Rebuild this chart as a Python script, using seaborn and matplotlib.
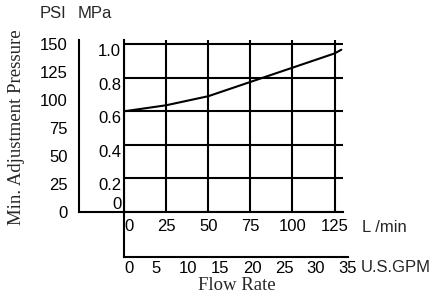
import matplotlib
matplotlib.use("Agg")
import matplotlib.pyplot as plt
import seaborn as sns
import pandas as pd

# values
flow_lpm = [0, 25, 50, 75, 100, 125, 129]
pressure_mpa = [0.60, 0.636, 0.69, 0.775, 0.86, 0.945, 0.967]

mpa_ticks = [0, 0.2, 0.4, 0.6, 0.8, 1.0]
mpa_labels = ["0", "0.2", "0.4", "0.6", "0.8", "1.0"]
psi_ticks = [0, 25, 50, 75, 100, 125, 150]
lpm_ticks = [0, 25, 50, 75, 100, 125]
gpm_ticks = [0, 5, 10, 15, 20, 25, 30, 35]

sns.set_style("white")
plt.rcParams["font.family"] = ["Liberation Sans", "DejaVu Sans"]
SANS = 12
SERIF = ["Liberation Serif", "DejaVu Serif"]
LW = 1.5

W, H = 445, 307
fig = plt.figure(figsize=(W / 100, H / 100), dpi=100)


def box(x0, y_top, x1, y_bot):
    return [x0 / W, (H - y_bot) / H, (x1 - x0) / W, (y_bot - y_top) / H]


# main chart: L/min vs MPa
ax = fig.add_axes(box(124, 40, 343, 212))
df = pd.DataFrame({"flow": flow_lpm, "mpa": pressure_mpa})
sns.lineplot(data=df, x="flow", y="mpa", ax=ax, color="black", lw=LW, zorder=3)
ax.set_xlim(0, 130)
ax.set_ylim(0, 1.025)
ax.set_xticks(lpm_ticks)
ax.set_yticks(mpa_ticks)
ax.set_yticklabels(mpa_labels)
ax.xaxis.grid(True, color="black", lw=LW, alpha=1)
ax.yaxis.grid(True, color="black", lw=LW, alpha=1)
ax.set_xlabel("")
ax.set_ylabel("")
for s in ["top", "right"]:
    ax.spines[s].set_visible(False)
for s in ["left", "bottom"]:
    ax.spines[s].set_color("black")
    ax.spines[s].set_linewidth(LW)
ax.tick_params(axis="both", length=0, labelsize=SANS, colors="black")
ax.tick_params(axis="y", pad=2)
ax.tick_params(axis="x", pad=5)
for lab in ax.get_yticklabels():
    lab.set_va("top")
ax.get_yticklabels()[0].set_va("bottom")
ax.get_xticklabels()[0].set_ha("left")

# PSI scale
ax_psi = fig.add_axes(box(79, 40, 124, 212))
ax_psi.set_ylim(0, 153.75)
ax_psi.set_yticks(psi_ticks)
ax_psi.set_xticks([])
ax_psi.patch.set_alpha(0)
for s in ["top", "right"]:
    ax_psi.spines[s].set_visible(False)
for s in ["left", "bottom"]:
    ax_psi.spines[s].set_color("black")
    ax_psi.spines[s].set_linewidth(LW)
ax_psi.tick_params(axis="y", direction="in", length=6, width=LW,
                   labelsize=SANS, pad=8, colors="black")

# U.S. GPM scale
ax_gpm = fig.add_axes(box(124, 212, 348, 257))
ax_gpm.set_xlim(0, 35)
ax_gpm.set_ylim(0, 1)
ax_gpm.set_xticks(gpm_ticks)
ax_gpm.set_yticks([])
ax_gpm.patch.set_alpha(0)
for s in ["top", "right"]:
    ax_gpm.spines[s].set_visible(False)
for s in ["left", "bottom"]:
    ax_gpm.spines[s].set_color("black")
    ax_gpm.spines[s].set_linewidth(LW)
ax_gpm.tick_params(axis="x", direction="in", length=8, width=LW,
                   labelsize=SANS, pad=3, colors="black")
ax_gpm.get_xticklabels()[0].set_ha("left")

# labels
fig.text(362 / W, 1 - 227 / H, "L /min", fontsize=SANS, va="center", ha="left")
fig.text(361 / W, 1 - 268 / H, "U.S.GPM", fontsize=SANS, va="center", ha="left")
fig.text(40 / W, 1 - 14 / H, "PSI", fontsize=SANS, va="center", ha="left")
fig.text(78 / W, 1 - 14 / H, "MPa", fontsize=SANS, va="center", ha="left")
fig.text(237 / W, 1 - 286 / H, "Flow Rate", fontsize=13.5, family=SERIF,
         va="center", ha="center")
fig.text(17 / W, 1 - 127 / H, "Min. Adjustment Pressure", fontsize=13.5,
         family=SERIF, rotation=90, va="center", ha="center")

fig.savefig("out.png", dpi=100)
